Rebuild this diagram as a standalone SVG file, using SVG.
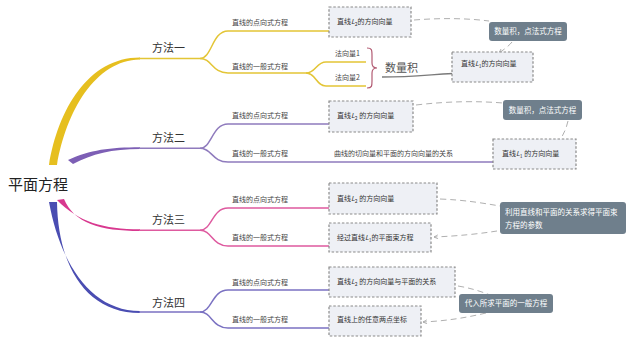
<svg xmlns="http://www.w3.org/2000/svg" width="626" height="340" viewBox="0 0 626 340">
<defs>
<style>
text{font-family:"Noto Sans CJK SC","Noto Sans",sans-serif;}
.t2{font-size:7px;fill:#444;}
.tm{font-size:11px;fill:#333;}
.tb{font-size:7px;fill:#333;}
.tn{font-size:7.5px;fill:#fff;}
.box{fill:#eef0f5;stroke:#8a8a8a;stroke-width:1.2;stroke-dasharray:2.5,1.8;}
.note{fill:#6f7f8c;}
.rel{fill:none;stroke:#b0b0b0;stroke-width:1;stroke-dasharray:6,4;}
.y{fill:none;stroke:#e3c536;stroke-width:1.5;}
.p{fill:none;stroke:#8f7bbd;stroke-width:1.5;}
.k{fill:none;stroke:#de5a9f;stroke-width:1.5;}
.b{fill:none;stroke:#7b72c2;stroke-width:1.5;}
</style>
<marker id="ah" viewBox="0 0 10 10" refX="9" refY="5" markerWidth="5" markerHeight="5" orient="auto">
<path d="M1,1 L9,5 L1,9" fill="none" stroke="#a0a0a0" stroke-width="1.5"/>
</marker>
</defs>
<rect width="626" height="340" fill="#fff"/>

<g id="connectors">
<path d="M49,165 C58,110 88,57.5 140,57.5 L140,59.5 C95,60 66,112 57,165 Z" fill="#e6bf1f"/>
<path d="M68,160 C90,150 110,147.3 140,147.3 L140,149 C112,149 92,154 73,164 Z" fill="#7d5fb5"/>
<path d="M57,200 C78,222 104,229.3 140,229.3 L140,231 C100,231 74,223 64,199 Z" fill="#d8388f"/>
<path d="M49,202 C60,262 90,311 140,311 L140,313 C86,313 58,266 57,202 Z" fill="#4a4db2"/>

<path class="y" d="M139,58.5 L200,58.5 C212,58.5 212,31 228,31 L408,31"/>
<path class="y" d="M200,58.5 C212,58.5 212,73 228,73 L306,73 C316,73 316,62 326,62 L366,62"/>
<path class="y" d="M306,73 C316,73 316,86 326,86 L366,86"/>
<path d="M382,77 C420,77 440,73 470,73 L530,73" fill="none" stroke="#7a7a7a" stroke-width="1.3"/>

<path class="p" d="M139,148.2 L200,148.2 C212,148.2 212,124 228,124 L412,124"/>
<path class="p" d="M200,148.2 C212,148.2 212,162 228,162 L572,162"/>

<path class="k" d="M139,230.2 L200,230.2 C212,230.2 212,208 228,208 L436,208"/>
<path class="k" d="M200,230.2 C212,230.2 212,246 228,246 L430,246"/>

<path class="b" d="M139,312 L200,312 C212,312 212,290 228,290 L454,290"/>
<path class="b" d="M200,312 C212,312 212,328 228,328 L420,328"/>

<path d="M367,48 C372,48 372,50 372,56 L372,63 C372,66 374,68 377,68 C374,68 372,70 372,73 L372,81 C372,86 372,88 367,88" fill="none" stroke="#b25a72" stroke-width="1.2"/>

<path class="rel" d="M414,20 C440,18 465,18 489,21"/>
<path class="rel" d="M512,42 C508,47 503,50 499,53" marker-end="url(#ah)"/>
<path class="rel" d="M416,105 C450,101 478,101 503,103"/>
<path class="rel" d="M568,121 C566,130 562,138 556,145" marker-end="url(#ah)"/>
<path class="rel" d="M440,199 C465,200 482,203 500,206"/>
<path class="rel" d="M497,231 C478,234 458,236 434,237" marker-end="url(#ah)"/>
<path class="rel" d="M458,286 C470,288 480,291 490,295"/>
<path class="rel" d="M486,313 C465,318 445,321 423,322" marker-end="url(#ah)"/>
</g>

<g id="root"><text x="8" y="190" style="font-size:15px;fill:#222">平面方程</text></g>

<g id="m1"><text class="tm" x="152" y="52">方法一</text></g>
<g id="m1a"><text class="t2" x="232" y="24.5">直线的点向式方程</text></g>
<g id="m1b"><text class="t2" x="232" y="68.5">直线的一般式方程</text></g>
<g id="m1b1"><text class="t2" x="335" y="56">法向量1</text></g>
<g id="m1b2"><text class="t2" x="335" y="80">法向量2</text></g>
<g id="m1dot"><text x="385" y="72" style="font-size:11px;fill:#555">数量积</text></g>
<g id="m1box1"><rect class="box" x="329" y="7" width="82" height="30"/><text class="tb" x="337" y="23.5">直线<tspan font-style="italic">L</tspan><tspan font-size="5" dy="2">2</tspan><tspan dy="-2">的方向向量</tspan></text></g>
<g id="m1box2"><rect class="box" x="452" y="52" width="81" height="30"/><text class="tb" x="461" y="65.5">直线<tspan font-style="italic">L</tspan><tspan font-size="5" dy="2">1</tspan><tspan dy="-2">的方向向量</tspan></text></g>
<g id="m1note"><rect class="note" x="489" y="22" width="78" height="19" rx="3"/><text class="tn" x="528" y="34" text-anchor="middle">数量积，点法式方程</text></g>

<g id="m2"><text class="tm" x="152" y="142">方法二</text></g>
<g id="m2a"><text class="t2" x="232" y="118">直线的点向式方程</text></g>
<g id="m2b"><text class="t2" x="232" y="156">直线的一般式方程</text></g>
<g id="m2c"><text class="t2" x="334" y="156">曲线的切向量和平面的方向向量的关系</text></g>
<g id="m2box1"><rect class="box" x="329" y="101" width="84" height="31"/><text class="tb" x="337" y="117.5">直线<tspan font-style="italic">L</tspan><tspan font-size="5" dy="2">2</tspan><tspan dy="-2"> 的方向向量</tspan></text></g>
<g id="m2box2"><rect class="box" x="493" y="139" width="83" height="30"/><text class="tb" x="502" y="155.5">直线<tspan font-style="italic">L</tspan><tspan font-size="5" dy="2">1</tspan><tspan dy="-2"> 的方向向量</tspan></text></g>
<g id="m2note"><rect class="note" x="503" y="100" width="79" height="20" rx="3"/><text class="tn" x="542.5" y="112.5" text-anchor="middle">数量积，点法式方程</text></g>

<g id="m3"><text class="tm" x="152" y="224">方法三</text></g>
<g id="m3a"><text class="t2" x="232" y="201.5">直线的点向式方程</text></g>
<g id="m3b"><text class="t2" x="232" y="239.5">直线的一般式方程</text></g>
<g id="m3box1"><rect class="box" x="329" y="183" width="108" height="31"/><text class="tb" x="337" y="200.5">直线<tspan font-style="italic">L</tspan><tspan font-size="5" dy="2">2</tspan><tspan dy="-2"> 的方向向量</tspan></text></g>
<g id="m3box2"><rect class="box" x="329" y="223" width="102" height="29"/><text class="tb" x="337" y="239.5">经过直线<tspan font-style="italic">L</tspan><tspan font-size="5" dy="2">1</tspan><tspan dy="-2">的平面束方程</tspan></text></g>
<g id="m3note"><rect class="note" x="500" y="202" width="126" height="32" rx="3"/><text class="tn" x="505" y="215">利用直线和平面的关系求得平面束</text><text class="tn" x="505" y="228">方程的参数</text></g>

<g id="m4"><text class="tm" x="152" y="307">方法四</text></g>
<g id="m4a"><text class="t2" x="232" y="284.5">直线的点向式方程</text></g>
<g id="m4b"><text class="t2" x="232" y="322">直线的一般式方程</text></g>
<g id="m4box1"><rect class="box" x="329" y="267" width="126" height="30"/><text class="tb" x="337" y="283.5">直线<tspan font-style="italic">L</tspan><tspan font-size="5" dy="2">2</tspan><tspan dy="-2"> 的方向向量与平面的关系</tspan></text></g>
<g id="m4box2"><rect class="box" x="329" y="306" width="92" height="30"/><text class="tb" x="337" y="321.5">直线上的任意两点坐标</text></g>
<g id="m4note"><rect class="note" x="459" y="294" width="94" height="19" rx="3"/><text class="tn" x="506" y="306" text-anchor="middle">代入所求平面的一般方程</text></g>
</svg>
